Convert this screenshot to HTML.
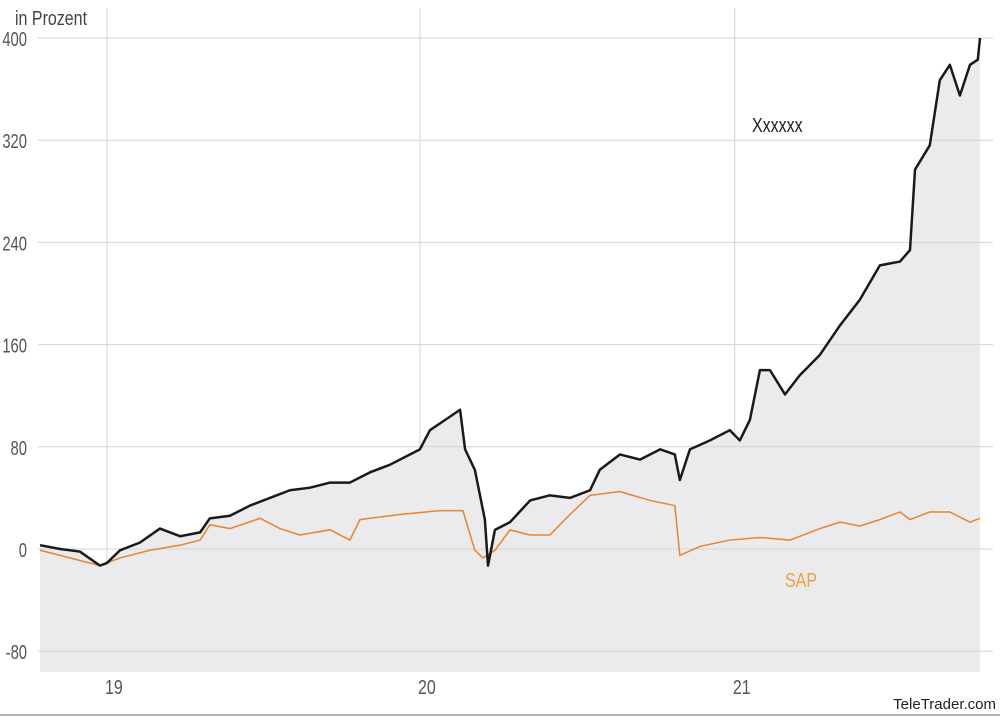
<!DOCTYPE html>
<html><head><meta charset="utf-8"><style>
body{margin:0;background:#fff;}
svg text{font-family:"Liberation Sans Narrow","Liberation Sans",sans-serif;}
</style></head><body>
<svg id="chart" width="1000" height="716" viewBox="0 0 1000 716" xmlns="http://www.w3.org/2000/svg"></svg>
<script>
// Time in years since start of chart (x-domain 0..2.994)
const xDates = [0,.064,.127,.191,.213,.255,.318,.382,.446,.510,.541,.605,.669,.732,.796,.860,.924,.987,1.051,1.115,1.178,1.210,1.242,1.290,1.338,1.354,1.385,1.417,1.427,1.449,1.497,1.561,1.624,1.688,1.752,1.783,1.847,1.911,1.975,2.022,2.038,2.070,2.134,2.197,2.229,2.261,2.293,2.325,2.373,2.420,2.484,2.548,2.611,2.675,2.739,2.771,2.787,2.834,2.866,2.898,2.930,2.962,2.987,2.994];
const xValues = [3,0,-2,-13,-11,-1,5,16,10,13,24,26,34,40,46,48,52,52,60,66,74,78,93,101,109,78,62,23,-13,15,21,38,42,40,46,62,74,70,78,74,54,78,85,93,85,101,140,140,121,136,152,175,195,222,225,234,297,316,367,379,355,379,383,400];
const sapDates = [0,.064,.127,.191,.255,.350,.446,.510,.541,.605,.701,.764,.828,.924,.987,1.019,1.146,1.274,1.347,1.385,1.411,1.449,1.497,1.561,1.624,1.688,1.752,1.847,1.943,2.022,2.038,2.102,2.197,2.293,2.389,2.484,2.548,2.611,2.675,2.739,2.771,2.834,2.898,2.962,2.994];
const sapValues = [-1,-5,-9,-13,-7,-1,3,7,19,16,24,16,11,15,7,23,27,30,30,-1,-7,-1,15,11,11,27,42,45,38,34,-5,2,7,9,7,16,21,18,23,29,23,29,29,21,24];
const yTicks = [400,320,240,160,80,0,-80];
const xTickLabels = ["19","20","21"];
const xTickDates = [0.213,1.210,2.213];

const svg = document.getElementById('chart');
const NS = 'http://www.w3.org/2000/svg';
const X0=40, X1=980, D1=2.994;
const xS = d => X0 + d/D1*(X1-X0);
const yS = v => 549 - v*1.2775;
const PB = 672;
function mk(tag, attrs){const e=document.createElementNS(NS,tag);for(const k in attrs)e.setAttribute(k,attrs[k]);svg.appendChild(e);return e;}
function narrow(t,s){t.setAttribute('transform','translate('+t.getAttribute('x')+',0) scale('+(s||0.8)+',1) translate('+(-t.getAttribute('x'))+',0)');}

xTickDates.forEach((d,i)=>{
  const l=mk('line',{x1:xS(d),x2:xS(d),y1:8,y2:PB,stroke:'#d4d4d4','stroke-width':1});
  
  
});
let pts = xDates.map((d,i)=>xS(d)+','+yS(xValues[i])).join(' ');
const area = mk('polygon',{points:xS(0)+','+PB+' '+pts+' '+xS(D1)+','+PB,fill:'#ebebed'});


yTicks.forEach(v=>{
  const l=mk('line',{x1:38,x2:993,y1:yS(v),y2:yS(v),stroke:'#d4d4d4','stroke-width':1});
  
  
  const t=mk('text',{x:27,y:yS(v)+8,'font-size':20,fill:'#555','text-anchor':'end'});
  t.textContent=v;
  narrow(t,0.74);
  
  
});
xTickDates.forEach((d,i)=>{
  const t=mk('text',{x:xS(d)+7,y:694,'font-size':20,fill:'#555','text-anchor':'middle'});
  t.textContent=xTickLabels[i];
  narrow(t,0.8);
  
  
});
const sap=mk('polyline',{points:sapDates.map((d,i)=>xS(d)+','+yS(sapValues[i])).join(' '),fill:'none',stroke:'#e8842c','stroke-width':1.5});


const xl=mk('polyline',{points:pts,fill:'none',stroke:'#1a1a1a','stroke-width':2.5,'stroke-linejoin':'round'});



function label(txt,x,y,fs,fill,name){const t=mk('text',{x:x,y:y,'font-size':fs,fill:fill});t.textContent=txt;narrow(t,0.8);return t;}
label('in Prozent',15,25,20,'#444','y-axis-title');
label('Xxxxxx',752,132,20,'#222','xxxxxx-series-label');
label('SAP',785,587,20,'#f0a040','sap-series-label');
const tt=mk('text',{x:996,y:709,'font-size':15,fill:'#222','text-anchor':'end'});
tt.style.fontFamily='"Liberation Sans",sans-serif';
tt.textContent='TeleTrader.com';


const bl=mk('line',{x1:0,x2:1000,y1:715,y2:715,stroke:'#999','stroke-width':1.5});


</script>
</body></html>
